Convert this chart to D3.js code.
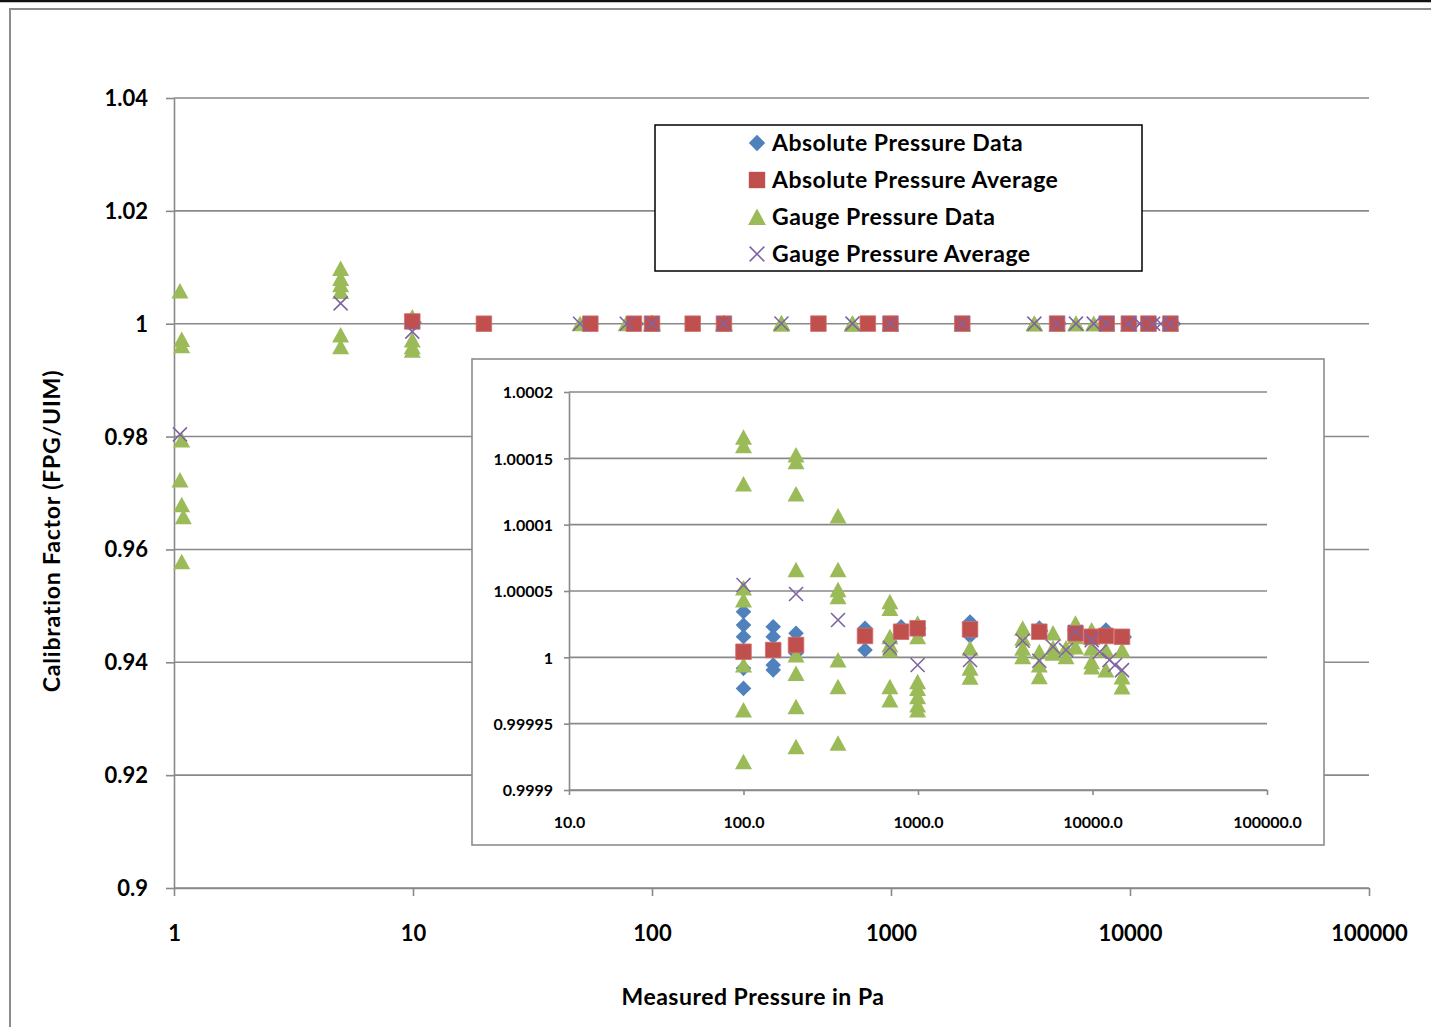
<!DOCTYPE html>
<html>
<head>
<meta charset="utf-8">
<script src="https://cdn.jsdelivr.net/npm/d3@7"></script>
<style>
  html, body { margin: 0; padding: 0; background: #fff; }
  svg { display: block; }
</style>
</head>
<body>
<svg id="chart" width="1431" height="1027"></svg>
<script>
// ---- Tick values and labels ----
const mainXTicks = [1, 10, 100, 1000, 10000, 100000];
const mainXLabels = ["1", "10", "100", "1000", "10000", "100000"];
const mainYTicks = [0.9, 0.92, 0.94, 0.96, 0.98, 1, 1.02, 1.04];
const mainYLabels = ["0.9", "0.92", "0.94", "0.96", "0.98", "1", "1.02", "1.04"];
const insetXTicks = [10, 100, 1000, 10000, 100000];
const insetXLabels = ["10.0", "100.0", "1000.0", "10000.0", "100000.0"];
const insetYTicks = [0.9999, 0.99995, 1, 1.00005, 1.0001, 1.00015, 1.0002];
const insetYLabels = ["0.9999", "0.99995", "1", "1.00005", "1.0001", "1.00015", "1.0002"];

const seriesNames = ["Absolute Pressure Data", "Absolute Pressure Average", "Gauge Pressure Data", "Gauge Pressure Average"];

// ---- Low-pressure points (below 100 Pa), [pressure Pa, calibration factor] ----
const lowAbsData = [[10.1, 1.0002], [19.8, 1.0], [55.6, 1.0], [86, 1.0]];
const lowAbsAverage = [[9.93, 1.0004], [19.8, 1.0], [55.2, 1.0], [84, 1.0]];
const lowGaugeData = [
  [1.059, 1.0058], [1.077, 0.9972], [1.077, 0.9961], [1.077, 0.9794], [1.059, 0.9723],
  [1.077, 0.9679], [1.094, 0.9658], [1.077, 0.9578],
  [4.98, 1.0098], [4.98, 1.0080], [4.98, 1.0069], [4.98, 1.0057], [4.98, 0.9980], [4.98, 0.9959],
  [9.93, 1.0012], [9.93, 0.9971], [9.93, 0.9959], [9.93, 0.9953],
  [50, 1.0], [78, 1.0]
];
const lowGaugeAverage = [[1.059, 0.9804], [4.98, 1.0036], [9.93, 0.9986], [50, 1.0], [78.4, 1.0]];

// ---- Points from 100 Pa upward (shown in both the full view and the detail view) ----
const absData = [
  [100, 1.0000344], [100, 1.0000243], [100, 1.0000155], [100, 1.0000040], [100, 0.9999917], [100, 0.9999766],
  [148, 1.0000231], [148, 1.0000155], [148, 0.9999942], [148, 0.9999904],
  [200, 1.0000181], [200, 1.0000118], [200, 1.0000030],
  [497, 1.0000219], [497, 1.0000055],
  [800, 1.0000231], [800, 1.0000193],
  [1010, 1.0000220], [1000, 1.0000176],
  [1987, 1.0000266], [1987, 1.0000161],
  [4960, 1.0000220], [5050, 1.0000200],
  [7990, 1.0000220],
  [9950, 1.0000161],
  [11940, 1.0000206],
  [15200, 1.0000153]
];
const absAverage = [
  [100, 1.0000042], [148, 1.0000055], [200, 1.0000093], [497, 1.0000161], [800, 1.0000193],
  [995, 1.0000219], [1987, 1.0000211], [4955, 1.0000193], [7990, 1.0000181], [9890, 1.0000155],
  [11940, 1.0000161], [14760, 1.0000155]
];
const gaugeData = [
  [100, 1.0001658], [100, 1.0001595], [100, 1.0001306], [100, 1.0000522], [100, 1.0000432], [100, 0.9999942], [100, 0.9999603], [100, 0.9999213],
  [200, 1.0001525], [200, 1.0001474], [200, 1.0001231], [200, 1.0000660], [200, 1.0000017], [200, 0.9999879], [200, 0.9999628], [200, 0.9999326],
  [348, 1.0001065], [348, 1.0000660], [348, 1.0000509], [348, 1.0000457], [348, 0.9999980], [348, 0.9999778], [348, 0.9999352],
  [690, 1.0000419], [690, 1.0000369], [690, 1.0000155], [690, 1.0000093], [690, 1.0000055], [690, 0.9999778], [690, 0.9999678],
  [995, 1.0000256], [995, 1.0000155], [995, 0.9999816], [995, 0.9999766], [995, 0.9999703], [995, 0.9999640], [995, 0.9999603],
  [1987, 1.0000068], [1987, 0.9999917], [1987, 0.9999849],
  [3980, 1.0000219], [3980, 1.0000143], [3980, 1.0000068], [3980, 1.0000005],
  [4955, 1.0000042], [4955, 0.9999942], [4955, 0.9999854],
  [5940, 1.0000183], [5940, 1.0000070], [5940, 1.0000030],
  [7050, 1.0000070], [7050, 1.0000005],
  [7990, 1.0000256], [7990, 1.0000155], [7990, 1.0000078],
  [9890, 1.0000206], [9890, 1.0000068], [9890, 0.9999967], [9890, 0.9999927],
  [11940, 1.0000055], [11940, 0.9999904],
  [14760, 1.0000055], [14760, 0.9999852], [14760, 0.9999776]
];
const gaugeAverage = [
  [100, 1.0000545], [200, 1.0000477], [348, 1.0000281], [690, 1.0000072], [995, 0.9999942],
  [1987, 0.9999980], [3980, 1.0000125], [4955, 0.9999974], [5940, 1.0000080], [7050, 1.0000055],
  [7990, 1.0000193], [9890, 1.0000130], [11000, 1.0000042], [12500, 0.9999980], [13460, 0.9999942],
  [14760, 0.9999904]
];

// ---- Styling ----
const FONT = "Lato, 'Open Sans', 'DejaVu Sans', sans-serif";
const GRID = "#898989";
const COLORS = { diamond: "#4F81BD", square: "#C0504D", triangle: "#9BBB59", cross: "#8064A2" };

const MARKER_PATHS = {
  diamond: "M0,-7.8L7.8,0L0,7.8L-7.8,0Z",
  square: "M-7.8,-7.8H7.8V7.8H-7.8Z",
  triangle: "M0,-8L8.5,7.5L-8.5,7.5Z",
  cross: "M-7,-7L7,7M7,-7L-7,7"
};

const svg = d3.select("#chart");

// Outer chart frame
svg.append("line").attr("x1", 0).attr("x2", 1431).attr("y1", 1).attr("y2", 1)
  .attr("stroke", "#111").attr("stroke-width", 2.5);
svg.append("path").attr("d", "M10,1027V9H1431")
  .attr("fill", "none").attr("stroke", "#8c8c8c").attr("stroke-width", 2);

function drawMarkers(g, data, xs, ys, kind) {
  const sel = g.append("g").selectAll("path").data(data).join("path")
    .attr("d", MARKER_PATHS[kind])
    .attr("transform", d => `translate(${xs(d[0])},${ys(d[1])})`);
  if (kind === "cross") {
    sel.attr("fill", "none").attr("stroke", COLORS.cross).attr("stroke-width", 1.6);
  } else if (kind === "square") {
    sel.attr("fill", COLORS.square).attr("stroke", "#d0706e").attr("stroke-width", 0.8);
  } else {
    sel.attr("fill", COLORS[kind]);
  }
}

function styleAxis(axisG, fontSize) {
  axisG.attr("font-family", FONT).attr("font-size", fontSize).attr("font-weight", 700);
  axisG.select(".domain").attr("stroke", GRID).attr("stroke-width", 1.6);
  axisG.selectAll(".tick line").attr("stroke", GRID).attr("stroke-width", 1.6);
  axisG.selectAll(".tick text").attr("fill", "#000");
}

// ================= Main chart =================
const x = d3.scaleLog().domain([1, 100000]).range([174, 1369]);
const y = d3.scaleLinear().domain([0.9, 1.04]).range([888, 98]);

const main = svg.append("g");

// horizontal gridlines
main.append("g").selectAll("line").data(mainYTicks).join("line")
  .attr("x1", x.range()[0]).attr("x2", x.range()[1])
  .attr("y1", d => y(d)).attr("y2", d => y(d))
  .attr("stroke", GRID).attr("stroke-width", 1.6);

const yAxisG = main.append("g").attr("transform", `translate(${x.range()[0]},0)`)
  .call(d3.axisLeft(y).tickValues(mainYTicks).tickFormat((d, i) => mainYLabels[i])
    .tickSize(8).tickSizeOuter(0).tickPadding(18));
styleAxis(yAxisG, 22);
yAxisG.selectAll(".tick text").attr("dy", "0.34em");

const xAxisG = main.append("g").attr("transform", `translate(0,${y.range()[0]})`)
  .call(d3.axisBottom(x).tickValues(mainXTicks).tickFormat((d, i) => mainXLabels[i])
    .tickSize(8).tickSizeOuter(0));
styleAxis(xAxisG, 22);
xAxisG.selectAll(".tick text").attr("dy", null).attr("y", 53);

// axis titles
main.append("text").attr("x", 753).attr("y", 1005).attr("text-anchor", "middle")
  .attr("font-family", FONT).attr("font-size", 23).attr("font-weight", 700)
  .attr("letter-spacing", 0.5)
  .text("Measured Pressure in Pa");
main.append("text").attr("transform", "translate(60,531) rotate(-90)").attr("text-anchor", "middle")
  .attr("font-family", FONT).attr("font-size", 23).attr("font-weight", 700)
  .attr("letter-spacing", 0.8)
  .text("Calibration Factor (FPG/UIM)");

// main markers
drawMarkers(main, lowAbsData.concat(absData), x, y, "diamond");
drawMarkers(main, lowGaugeData.concat(gaugeData), x, y, "triangle");
drawMarkers(main, lowAbsAverage.concat(absAverage), x, y, "square");
drawMarkers(main, lowGaugeAverage.concat(gaugeAverage), x, y, "cross");

// ================= Legend =================
const legend = svg.append("g");
legend.append("rect").attr("x", 655).attr("y", 125).attr("width", 487).attr("height", 146)
  .attr("fill", "#fff").attr("stroke", "#000").attr("stroke-width", 1.5);
const legendKinds = ["diamond", "square", "triangle", "cross"];
const legendRow = d3.scaleLinear().domain([0, 3]).range([143, 254]);
seriesNames.forEach((name, i) => {
  const row = legend.append("g").attr("transform", `translate(757,${legendRow(i)})`);
  const m = row.append("path").attr("d", MARKER_PATHS[legendKinds[i]]).attr("transform", "scale(1.05)");
  if (legendKinds[i] === "cross") m.attr("fill", "none").attr("stroke", COLORS.cross).attr("stroke-width", 1.5);
  else m.attr("fill", COLORS[legendKinds[i]]);
  row.append("text").attr("x", 15).attr("y", 8)
    .attr("font-family", FONT).attr("font-size", 23).attr("font-weight", 700).attr("fill", "#000")
    .attr("letter-spacing", 0.5)
    .text(name);
});

// ================= Detail (inset) chart =================
const ix = d3.scaleLog().domain([10, 100000]).range([569, 1267]);
const iy = d3.scaleLinear().domain([0.9999, 1.0002]).range([790, 392]);

const inset = svg.append("g");
inset.append("rect").attr("x", 472).attr("y", 359).attr("width", 852).attr("height", 486)
  .attr("fill", "#fff").attr("stroke", "#8c8c8c").attr("stroke-width", 1.6);

inset.append("g").selectAll("line").data(insetYTicks).join("line")
  .attr("x1", ix.range()[0]).attr("x2", ix.range()[1])
  .attr("y1", d => iy(d)).attr("y2", d => iy(d))
  .attr("stroke", GRID).attr("stroke-width", 1.6);

const iyAxisG = inset.append("g").attr("transform", `translate(${ix.range()[0]},0)`)
  .call(d3.axisLeft(iy).tickValues(insetYTicks).tickFormat((d, i) => insetYLabels[i])
    .tickSize(5).tickSizeOuter(0).tickPadding(11));
styleAxis(iyAxisG, 16);
iyAxisG.selectAll(".tick text").attr("dy", "0.36em");

const ixAxisG = inset.append("g").attr("transform", `translate(0,${iy.range()[0]})`)
  .call(d3.axisBottom(ix).tickValues(insetXTicks).tickFormat((d, i) => insetXLabels[i])
    .tickSize(5).tickSizeOuter(0));
styleAxis(ixAxisG, 16);
ixAxisG.selectAll(".tick text").attr("dy", null).attr("y", 38);

drawMarkers(inset, absData, ix, iy, "diamond");
drawMarkers(inset, gaugeData, ix, iy, "triangle");
drawMarkers(inset, absAverage, ix, iy, "square");
drawMarkers(inset, gaugeAverage, ix, iy, "cross");
</script>
</body>
</html>
